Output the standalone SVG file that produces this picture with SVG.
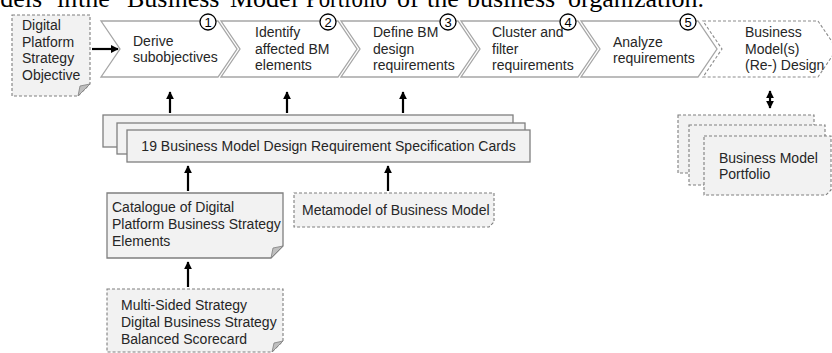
<svg xmlns="http://www.w3.org/2000/svg" width="832" height="353" viewBox="0 0 832 353">
<defs>
<style>
text{font-family:"Liberation Sans",Arial,sans-serif;font-size:14px;fill:#262626}
.hdr{font-family:"Liberation Serif","Times New Roman",serif;font-size:26px;fill:#000}
.chev{fill:#fff;stroke:#a6a6a6;stroke-width:1.3}
.chevd{fill:#fff;stroke:#8c8c8c;stroke-width:1.1;stroke-dasharray:3 2}
.box{fill:#f2f2f2;stroke:#7f7f7f;stroke-width:1.3}
.dbox{fill:#f2f2f2;stroke:#7f7f7f;stroke-width:1.1;stroke-dasharray:3 2}
.fold{fill:#bfbfbf;stroke:#7f7f7f;stroke-width:0.8}
.num{fill:#fff;stroke:#000;stroke-width:1.3}
.numt{font-size:13px;text-anchor:middle;fill:#000}
.arr{stroke:#000;stroke-width:2.2;fill:none;marker-end:url(#ah)}
.darr{stroke:#000;stroke-width:2.2;fill:none;marker-end:url(#ah);marker-start:url(#ah)}
</style>
<marker id="ah" viewBox="0 0 10 10" refX="9" refY="5" markerWidth="8" markerHeight="8" markerUnits="userSpaceOnUse" orient="auto-start-reverse">
<path d="M0,0 L10,5 L0,10 z" fill="#000"/>
</marker>
</defs>

<text class="hdr" y="6.5"><tspan x="-33">models</tspan><tspan x="57">in</tspan><tspan x="78">the</tspan><tspan x="127">Business</tspan><tspan x="230">Model</tspan><tspan x="306" textLength="81" lengthAdjust="spacingAndGlyphs">Portfolio</tspan><tspan x="397">of</tspan><tspan x="427">the</tspan><tspan x="467">business</tspan><tspan x="568">organization.</tspan></text>

<g id="objective">
<path class="dbox" d="M12,15 H90 V84 L78,96 H12 Z"/>
<path class="fold" d="M78,96 L90,84 L80,86 Z"/>
<text x="22" y="30">Digital</text>
<text x="22" y="46.5">Platform</text>
<text x="22" y="63">Strategy</text>
<text x="22" y="79.5">Objective</text>
</g>

<g id="step1">
<polygon class="chev" points="101,21 218,21 237,49 218,77 101,77 120,49"/>
<text x="133" y="46">Derive</text>
<text x="133" y="62">subobjectives</text>
<circle class="num" cx="208" cy="22" r="8"/>
<text class="numt" x="208" y="26.5">1</text>
</g>

<g id="step2">
<polygon class="chev" points="221,21 338,21 357,49 338,77 221,77 240,49"/>
<text x="255" y="37">Identify</text>
<text x="255" y="53.5">affected BM</text>
<text x="255" y="70">elements</text>
<circle class="num" cx="328" cy="22" r="8"/>
<text class="numt" x="328" y="26.5">2</text>
</g>

<g id="step3">
<polygon class="chev" points="341,21 458,21 477,49 458,77 341,77 360,49"/>
<text x="373" y="37">Define BM</text>
<text x="373" y="53.5">design</text>
<text x="373" y="70">requirements</text>
<circle class="num" cx="448" cy="22" r="8"/>
<text class="numt" x="448" y="26.5">3</text>
</g>

<g id="step4">
<polygon class="chev" points="461,21 578,21 597,49 578,77 461,77 480,49"/>
<text x="492" y="37">Cluster and</text>
<text x="492" y="53.5">filter</text>
<text x="492" y="70">requirements</text>
<circle class="num" cx="568" cy="22" r="8"/>
<text class="numt" x="568" y="26.5">4</text>
</g>

<g id="step5">
<polygon class="chev" points="581,21 698,21 717,49 698,77 581,77 600,49"/>
<text x="613" y="47">Analyze</text>
<text x="613" y="63">requirements</text>
<circle class="num" cx="688" cy="22" r="8"/>
<text class="numt" x="688" y="26.5">5</text>
</g>

<g id="design">
<polygon class="chevd" points="703,21 818,21 837,49 818,77 703,77 722,49"/>
<text x="745" y="37">Business</text>
<text x="745" y="53.5">Model(s)</text>
<text x="745" y="70">(Re-) Design</text>
</g>

<g id="cards">
<rect class="box" x="103" y="115" width="410" height="32"/>
<rect class="box" x="117" y="123" width="408" height="31"/>
<rect class="box" x="127" y="130" width="403" height="32"/>
<text x="328.5" y="151" text-anchor="middle">19 Business Model Design Requirement Specification Cards</text>
</g>

<g id="catalogue">
<path class="box" d="M107,193 H283 V246 L271,258 H107 Z"/>
<path class="fold" d="M271,258 L283,246 L273,248 Z"/>
<text x="112" y="212">Catalogue of Digital</text>
<text x="112" y="229">Platform Business Strategy</text>
<text x="112" y="246">Elements</text>
</g>

<g id="metamodel">
<path class="dbox" d="M294,193 H494 V222 L489,227 H294 Z"/>
<text x="302" y="215">Metamodel of Business Model</text>
</g>

<g id="strategies">
<path class="dbox" d="M107,289 H283 V341 L272,352 H107 Z"/>
<path class="fold" d="M272,352 L283,341 L274,343 Z"/>
<text x="121" y="310">Multi-Sided Strategy</text>
<text x="121" y="327">Digital Business Strategy</text>
<text x="121" y="344">Balanced Scorecard</text>
</g>

<g id="portfolio">
<rect class="dbox" x="678" y="115" width="136" height="58"/>
<rect class="dbox" x="689" y="125" width="136" height="60"/>
<path class="dbox" d="M704,136 H831 V190 L826,195 H704 Z"/>
<text x="719" y="163">Business Model</text>
<text x="719" y="179">Portfolio</text>
</g>

<g id="connectors">
<line class="arr" x1="92" y1="49" x2="118" y2="49"/>
<line class="arr" x1="170" y1="113" x2="170" y2="92"/>
<line class="arr" x1="287" y1="113" x2="287" y2="92"/>
<line class="arr" x1="403" y1="113" x2="403" y2="92"/>
<line class="arr" x1="188" y1="191" x2="188" y2="166"/>
<line class="arr" x1="388" y1="191" x2="388" y2="166"/>
<line class="arr" x1="188" y1="287" x2="188" y2="262"/>
<line class="darr" x1="770" y1="91" x2="770" y2="108"/>
</g>
</svg>
